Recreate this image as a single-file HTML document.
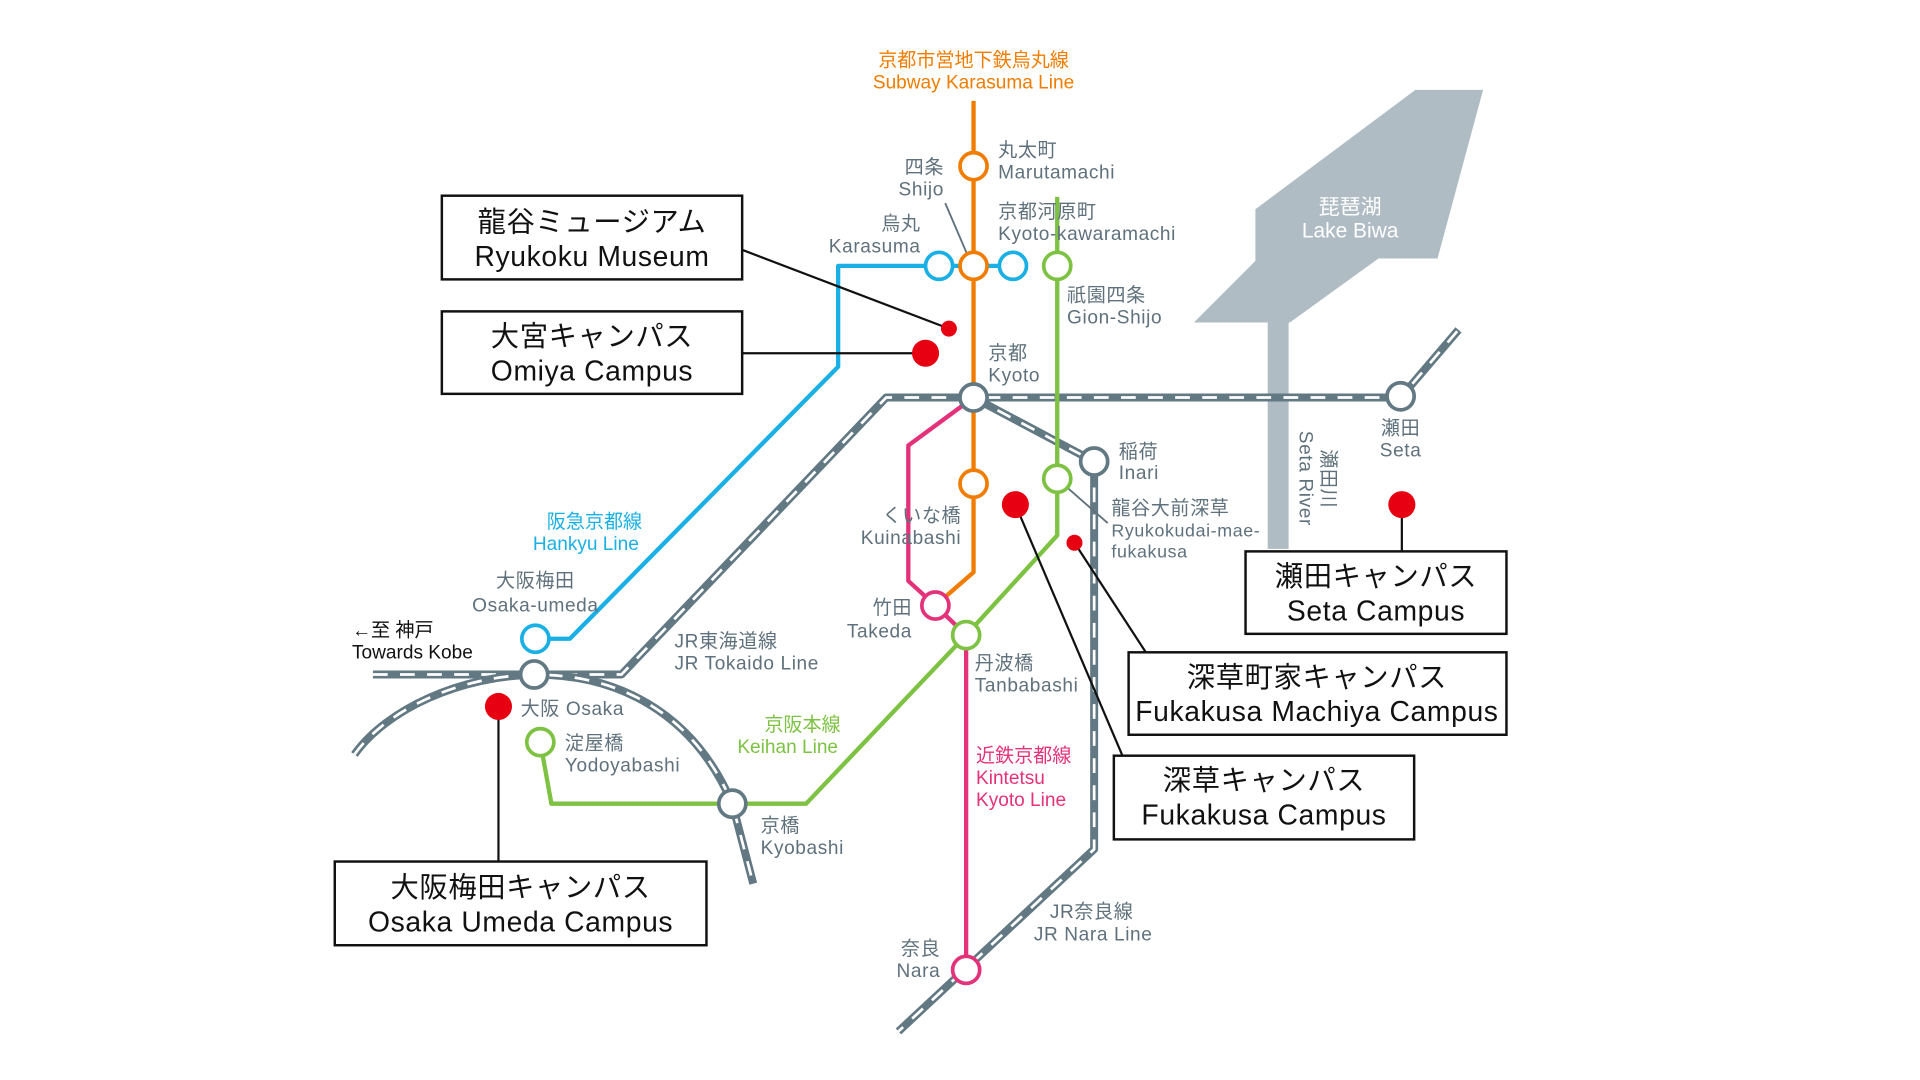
<!DOCTYPE html>
<html><head><meta charset="utf-8"><style>
html,body{margin:0;padding:0;background:#fff;}
svg{display:block;}
text{font-family:"Liberation Sans","Noto Sans CJK JP",sans-serif;}
.s{fill:#5f717c;font-size:15.5px;letter-spacing:0.5px}
.b{fill:#111;font-size:23px;text-anchor:middle;letter-spacing:0.5px}
</style></head><body>
<svg width="1920" height="1080" viewBox="0 0 1560 877.5" xmlns="http://www.w3.org/2000/svg">
<rect width="1560" height="877.5" fill="#fff"/>
<!-- Lake Biwa -->
<polygon points="1020,170 1150,73 1205,73 1168,210 1120,210 1048,262 970,262 1020,212" fill="#b0bcc4"/>
<rect x="1030" y="260" width="17" height="186" fill="#b0bcc4"/>
<text x="1097" y="174" fill="#fff" font-size="17" text-anchor="middle">琵琶湖</text>
<text x="1097" y="193" fill="#fff" font-size="17" text-anchor="middle">Lake Biwa</text>
<text transform="translate(1056,350) rotate(90)" class="s" font-size="15">Seta River</text>
<text transform="translate(1074,365) rotate(90)" class="s" font-size="15">瀬田川</text>

<!-- JR lines -->
<g fill="none" stroke-linejoin="round">
<path d="M303,548 L505,548 L720,323 L1138,323 L1185,268" stroke="#627883" stroke-width="6.5"/>
<path d="M303,548 L505,548 L720,323 L1138,323 L1185,268" stroke="#fff" stroke-width="2.2" stroke-dasharray="12 10"/>
<path d="M791,323 L889,375 L889,690 L730,838" stroke="#627883" stroke-width="6.5"/>
<path d="M791,323 L889,375 L889,690 L730,838" stroke="#fff" stroke-width="2.2" stroke-dasharray="12 10"/>
<path d="M288,613 C340,540 530,500 595,653 L612,718" stroke="#627883" stroke-width="6.5"/>
<path d="M288,613 C340,540 530,500 595,653 L612,718" stroke="#fff" stroke-width="2.2" stroke-dasharray="12 10"/>
<!-- Hankyu -->
<path d="M763,216 L681,216 L681,298 L463,519 L435,519" stroke="#1ab0e6" stroke-width="3.5"/>
<line x1="763" y1="216" x2="823" y2="216" stroke="#1ab0e6" stroke-width="3.5"/>
<!-- Keihan -->
<path d="M859,160 L859,435 L785,516 L655,653 L448,653 L439,603" stroke="#7dc242" stroke-width="3.5"/>
<!-- Kintetsu -->
<path d="M791,323 L738,362 L738,472 L760,492 L785,516 L785,788" stroke="#e4327a" stroke-width="3.5"/>
<!-- Karasuma -->
<path d="M791,82 L791,465 L760,492" stroke="#f07c00" stroke-width="3.5"/>
<!-- leaders -->
<line x1="768" y1="165" x2="789" y2="214" stroke="#5f717c" stroke-width="1.5"/>
<line x1="859" y1="389" x2="900" y2="425" stroke="#5f717c" stroke-width="1.5"/>
<g stroke="#111" stroke-width="1.8">
<line x1="603" y1="203" x2="771" y2="267"/>
<line x1="603" y1="287" x2="752" y2="287"/>
<line x1="1139" y1="410" x2="1139" y2="448"/>
<line x1="931" y1="530" x2="873" y2="441"/>
<line x1="912" y1="614" x2="825" y2="410"/>
<line x1="405" y1="574" x2="405" y2="700"/>
</g>
</g>
<!-- stations -->
<g fill="#fff" stroke-width="3">
<circle cx="791" cy="135" r="11" stroke="#f07c00"/>
<circle cx="791" cy="216" r="11" stroke="#f07c00"/>
<circle cx="791" cy="393" r="11" stroke="#f07c00"/>
<circle cx="760" cy="492" r="11" stroke="#e4327a"/>
<circle cx="763" cy="216" r="11" stroke="#1ab0e6"/>
<circle cx="823" cy="216" r="11" stroke="#1ab0e6"/>
<circle cx="435" cy="519" r="11" stroke="#1ab0e6"/>
<circle cx="859" cy="216" r="11" stroke="#7dc242"/>
<circle cx="859" cy="389" r="11" stroke="#7dc242"/>
<circle cx="785" cy="516" r="11" stroke="#7dc242"/>
<circle cx="439" cy="603" r="11" stroke="#7dc242"/>
<circle cx="791" cy="323" r="11" stroke="#627883"/>
<circle cx="889" cy="375" r="11" stroke="#627883"/>
<circle cx="1138" cy="322" r="11" stroke="#627883"/>
<circle cx="434" cy="548" r="11" stroke="#627883"/>
<circle cx="595" cy="653" r="11" stroke="#627883"/>
<circle cx="785" cy="788" r="11" stroke="#e4327a"/>
</g>
<g fill="#e60012">
<circle cx="771" cy="267" r="6.5"/><circle cx="752" cy="287" r="11"/>
<circle cx="825" cy="410" r="11"/><circle cx="873" cy="441" r="6.5"/>
<circle cx="1139" cy="410" r="11"/><circle cx="405" cy="574" r="11"/>
</g>
<!-- line labels -->
<text x="791" y="54" fill="#f07c00" font-size="15.5" text-anchor="middle">京都市営地下鉄烏丸線</text>
<text x="791" y="72" fill="#f07c00" font-size="15.5" text-anchor="middle">Subway Karasuma Line</text>
<text x="483" y="429" fill="#1ab0e6" font-size="15.5" text-anchor="middle">阪急京都線</text>
<text x="476" y="447" fill="#1ab0e6" font-size="15.5" text-anchor="middle">Hankyu Line</text>
<text x="652" y="594" fill="#7dc242" font-size="15.5" text-anchor="middle">京阪本線</text>
<text x="640" y="612" fill="#7dc242" font-size="15.5" text-anchor="middle">Keihan Line</text>
<text x="793" y="619" fill="#e4327a" font-size="15.5">近鉄京都線</text>
<text x="793" y="637" fill="#e4327a" font-size="15.5">Kintetsu</text>
<text x="793" y="655" fill="#e4327a" font-size="15.5">Kyoto Line</text>
<!-- station labels -->
<g class="s">
<text x="811" y="127">丸太町</text><text x="811" y="145">Marutamachi</text>
<text x="767" y="141" text-anchor="end">四条</text><text x="767" y="159" text-anchor="end">Shijo</text>
<text x="748" y="187" text-anchor="end">烏丸</text><text x="748" y="205" text-anchor="end">Karasuma</text>
<text x="811" y="177">京都河原町</text><text x="811" y="195">Kyoto-kawaramachi</text>
<text x="867" y="245">祇園四条</text><text x="867" y="263">Gion-Shijo</text>
<text x="803" y="292">京都</text><text x="803" y="310">Kyoto</text>
<text x="1138" y="353" text-anchor="middle">瀬田</text><text x="1138" y="371" text-anchor="middle">Seta</text>
<text x="909" y="372">稲荷</text><text x="909" y="389">Inari</text>
<text x="903" y="418">龍谷大前深草</text><text x="903" y="436" font-size="14.5">Ryukokudai-mae-</text><text x="903" y="453" font-size="14.5">fukakusa</text>
<text x="781" y="424" text-anchor="end">くいな橋</text><text x="781" y="442" text-anchor="end">Kuinabashi</text>
<text x="741" y="499" text-anchor="end">竹田</text><text x="741" y="518" text-anchor="end">Takeda</text>
<text x="792" y="544">丹波橋</text><text x="792" y="562">Tanbabashi</text>
<text x="548" y="526">JR東海道線</text><text x="548" y="544">JR Tokaido Line</text>
<text x="435" y="477" text-anchor="middle">大阪梅田</text><text x="435" y="497" text-anchor="middle">Osaka-umeda</text>
<text x="423" y="581">大阪 Osaka</text>
<text x="459" y="609">淀屋橋</text><text x="459" y="627">Yodoyabashi</text>
<text x="618" y="676">京橋</text><text x="618" y="694">Kyobashi</text>
<text x="853" y="746">JR奈良線</text><text x="840" y="764">JR Nara Line</text>
<text x="764" y="776" text-anchor="end">奈良</text><text x="764" y="794" text-anchor="end">Nara</text>
</g>
<text x="286" y="517" fill="#111" font-size="15.5">←至 神戸</text>
<text x="286" y="535" fill="#111" font-size="15.5">Towards Kobe</text>
<!-- boxes -->
<g fill="#fff" stroke="#111" stroke-width="2">
<rect x="359" y="159" width="244" height="68"/>
<rect x="359" y="253" width="244" height="67"/>
<rect x="1012" y="448" width="212" height="67"/>
<rect x="917" y="530" width="307" height="67"/>
<rect x="905" y="614" width="244" height="68"/>
<rect x="272" y="700" width="302" height="68"/>
</g>
<g class="b">
<text x="481" y="188">龍谷ミュージアム</text><text x="481" y="216">Ryukoku Museum</text>
<text x="481" y="281">大宮キャンパス</text><text x="481" y="309">Omiya Campus</text>
<text x="1118" y="476">瀬田キャンパス</text><text x="1118" y="504">Seta Campus</text>
<text x="1070" y="558">深草町家キャンパス</text><text x="1070" y="586">Fukakusa Machiya Campus</text>
<text x="1027" y="642">深草キャンパス</text><text x="1027" y="670">Fukakusa Campus</text>
<text x="423" y="729">大阪梅田キャンパス</text><text x="423" y="757">Osaka Umeda Campus</text>
</g>
</svg>
</body></html>
